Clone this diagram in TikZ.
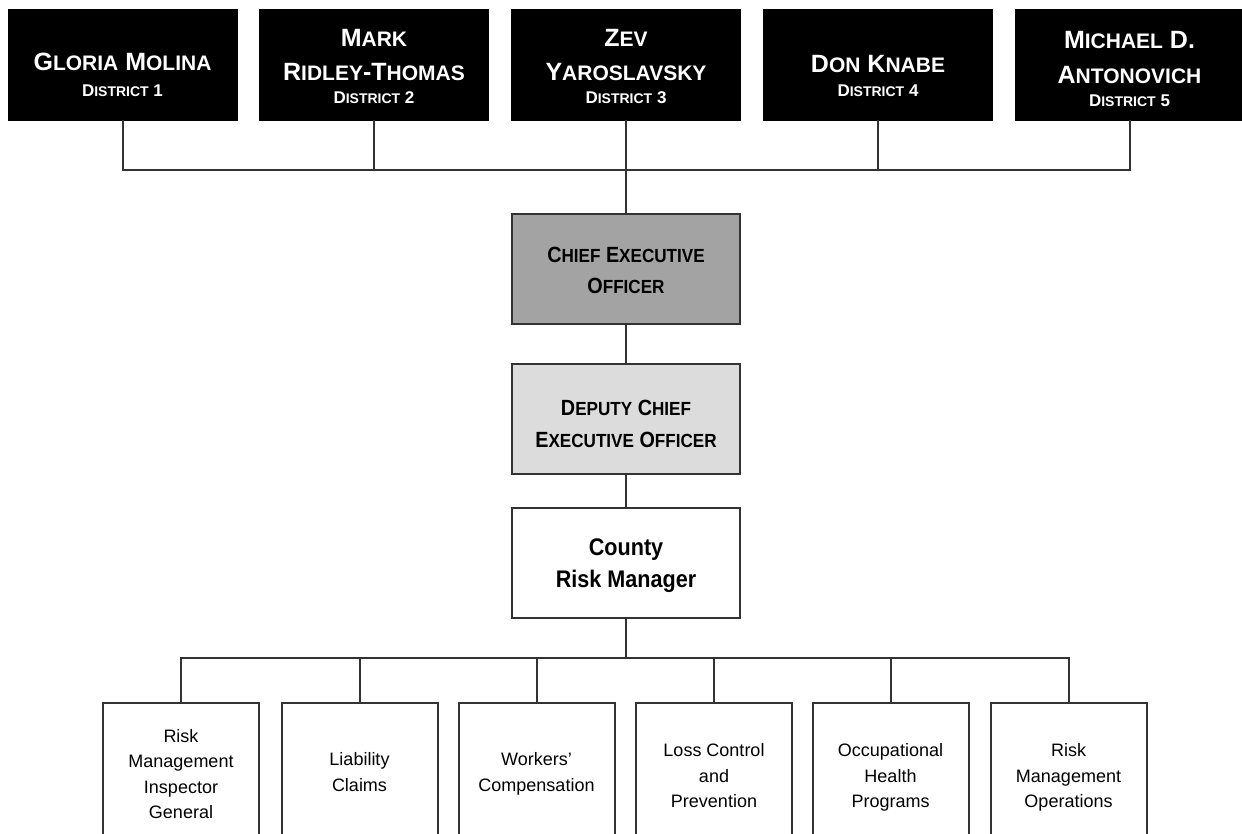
\documentclass[tikz,border=0pt]{standalone}
\usepackage{fontspec}
\setmainfont{Liberation Sans}
\newfontfamily\condfont[FakeStretch=0.9]{Liberation Sans}
\definecolor{linegray}{HTML}{333333}
\definecolor{ceogray}{HTML}{A3A3A3}
\definecolor{depgray}{HTML}{DCDCDC}
\newcommand\NS[2]{#1{\fontsize{21}{21}\selectfont #2}}
\newcommand\DS[2]{#1{\fontsize{14}{14}\selectfont #2}}
\newcommand\MS[2]{#1{\fontsize{19}{19}\selectfont #2}}
\begin{document}
\begin{tikzpicture}[x=1pt,y=-1pt,
  topbox/.style={draw=black, fill=black, minimum width=229pt, minimum height=111pt, inner sep=0pt},
  nameline/.style={anchor=base, text=white, font=\fontsize{25}{25}\selectfont\bfseries, inner sep=0pt},
  distline/.style={anchor=base, text=white, font=\fontsize{17}{17}\selectfont\bfseries, inner sep=0pt},
  midbox/.style={draw=linegray, line width=2pt, minimum width=228pt, minimum height=110pt, inner sep=0pt},
  midline/.style={anchor=base, font=\condfont\fontsize{22}{22}\selectfont\bfseries, inner sep=0pt},
  crmline/.style={anchor=base, font=\condfont\fontsize{24}{24}\selectfont\bfseries, inner sep=0pt},
  subbox/.style={draw=linegray, line width=2pt, fill=white, minimum width=156pt, minimum height=142pt, inner sep=0pt},
  subline/.style={anchor=base, font=\fontsize{18}{18}\selectfont, inner sep=0pt},
  conn/.style={draw=linegray, line width=2pt}]
\useasboundingbox (0,0) rectangle (1242,833);
\clip (0,0) rectangle (1242,833);
\fill[white] (0,0) rectangle (1242,833);

% top boxes
\node[topbox] (d1) at (122.5,64.5) {};
\node[topbox] (d2) at (374,64.5) {};
\node[topbox] (d3) at (626,64.5) {};
\node[topbox] (d4) at (878,64.5) {};
\node[topbox] (d5) at (1129.5,64.5) {};

\node[nameline] (d1a) at (122.5,70) {\NS{G}{LORIA} \NS{M}{OLINA}};
\node[distline] (d1b) at (122.5,96) {\DS{D}{ISTRICT} 1};
\node[nameline] (d2a) at (374,46) {\NS{M}{ARK}};
\node[nameline] (d2b) at (374,80) {\NS{R}{IDLEY}-\NS{T}{HOMAS}};
\node[distline] (d2c) at (374,103) {\DS{D}{ISTRICT} 2};
\node[nameline] (d3a) at (626,46) {\NS{Z}{EV}};
\node[nameline] (d3b) at (626,80) {\NS{Y}{AROSLAVSKY}};
\node[distline] (d3c) at (626,103) {\DS{D}{ISTRICT} 3};
\node[nameline] (d4a) at (878,72) {\NS{D}{ON} \NS{K}{NABE}};
\node[distline] (d4b) at (878,96) {\DS{D}{ISTRICT} 4};
\node[nameline] (d5a) at (1129.5,48) {\NS{M}{ICHAEL} D.};
\node[nameline] (d5b) at (1129.5,83) {\NS{A}{NTONOVICH}};
\node[distline] (d5c) at (1129.5,106) {\DS{D}{ISTRICT} 5};

% middle boxes
\node[midbox, fill=ceogray] (ceo) at (626,268.5) {};
\node[midline] (ceoa) at (626,262) {\MS{C}{HIEF} \MS{E}{XECUTIVE}};
\node[midline] (ceob) at (626,293) {\MS{O}{FFICER}};
\node[midbox, fill=depgray] (dep) at (626,419) {};
\node[midline] (depa) at (626,415) {\MS{D}{EPUTY} \MS{C}{HIEF}};
\node[midline] (depb) at (626,447) {\MS{E}{XECUTIVE} \MS{O}{FFICER}};
\node[midbox, fill=white] (crm) at (626,562.5) {};
\node[crmline] (crma) at (626,555) {County};
\node[crmline] (crmb) at (626,587) {Risk Manager};

% bottom boxes
\node[subbox] (s1) at (181,774) {};
\node[subbox] (s2) at (359.5,774) {};
\node[subbox] (s3) at (536.5,774) {};
\node[subbox] (s4) at (714,774) {};
\node[subbox] (s5) at (890.5,774) {};
\node[subbox] (s6) at (1068.5,774) {};

\node[subline] (s1a) at (181,742) {Risk};
\node[subline] (s1b) at (181,767.5) {Management};
\node[subline] (s1c) at (181,793) {Inspector};
\node[subline] (s1d) at (181,818.5) {General};
\node[subline] (s2a) at (359.5,765) {Liability};
\node[subline] (s2b) at (359.5,791) {Claims};
\node[subline] (s3a) at (536.5,765) {Workers'};
\node[subline] (s3b) at (536.5,791) {Compensation};
\node[subline] (s4a) at (714,756) {Loss Control};
\node[subline] (s4b) at (714,782) {and};
\node[subline] (s4c) at (714,807.5) {Prevention};
\node[subline] (s5a) at (890.5,756) {Occupational};
\node[subline] (s5b) at (890.5,782) {Health};
\node[subline] (s5c) at (890.5,807.5) {Programs};
\node[subline] (s6a) at (1068.5,756) {Risk};
\node[subline] (s6b) at (1068.5,782) {Management};
\node[subline] (s6c) at (1068.5,807.5) {Operations};

% connectors
\coordinate (tbus) at (626,170);
\coordinate (bbus) at (626,658);
\draw[conn] (d1.south) -- (d1.south |- tbus) -- (d5.south |- tbus) -- (d5.south);
\draw[conn] (d2.south) -- (d2.south |- tbus);
\draw[conn] (d4.south) -- (d4.south |- tbus);
\draw[conn] (d3.south) -- (ceo.north);
\draw[conn] (ceo.south) -- (dep.north);
\draw[conn] (dep.south) -- (crm.north);
\draw[conn] (crm.south) -- (bbus);
\draw[conn] (s1.north) -- (s1.north |- bbus) -- (s6.north |- bbus) -- (s6.north);
\draw[conn] (s2.north) -- (s2.north |- bbus);
\draw[conn] (s3.north) -- (s3.north |- bbus);
\draw[conn] (s4.north) -- (s4.north |- bbus);
\draw[conn] (s5.north) -- (s5.north |- bbus);
\end{tikzpicture}
\end{document}
